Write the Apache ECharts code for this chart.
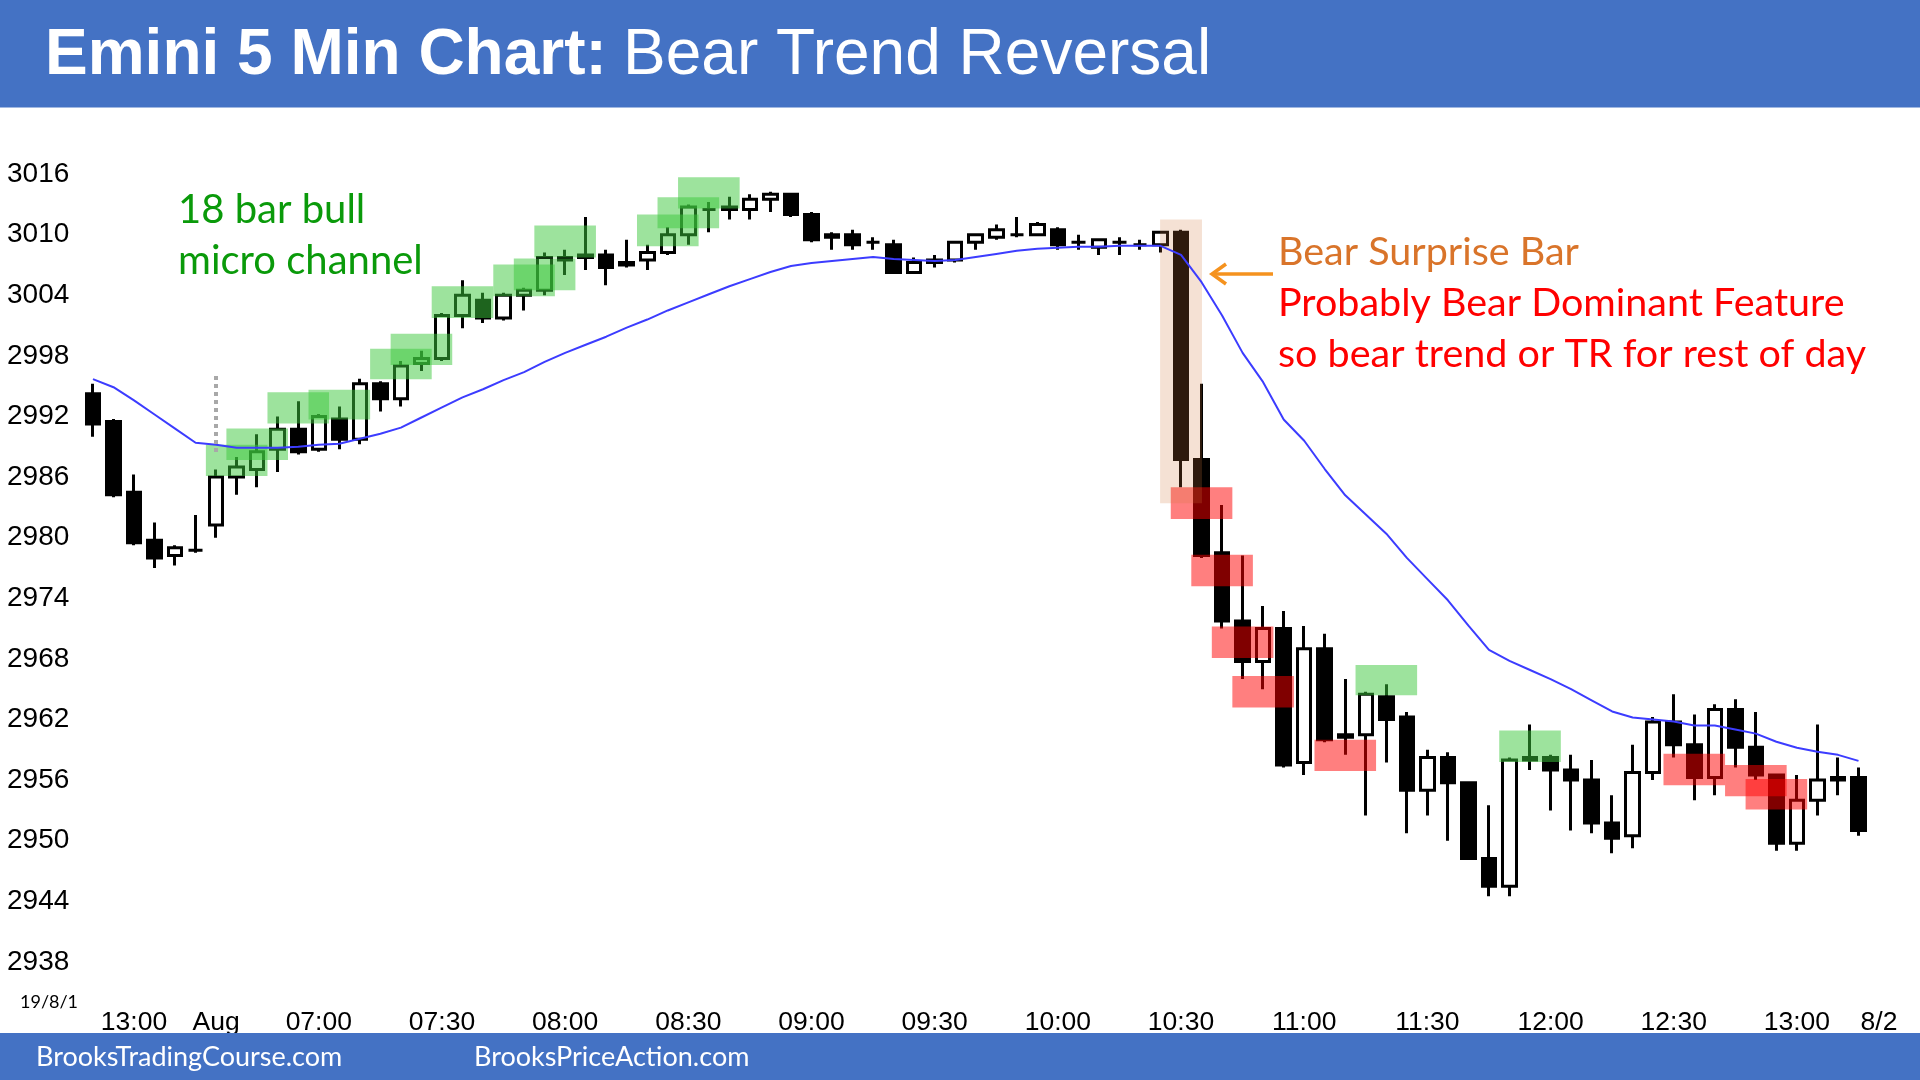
<!DOCTYPE html>
<html><head><meta charset="utf-8">
<script src="https://cdn.jsdelivr.net/npm/echarts@6/dist/echarts.min.js"></script>
<style>html,body{margin:0;padding:0;background:#fff}#c{width:1920px;height:1080px}</style>
</head><body><div id="c"></div>
<script>
const categories = ('07/31 12:50,07/31 12:55,07/31 13:00,07/31 13:05,07/31 13:10,07/31 13:15,' +
 '08/01 06:35,08/01 06:40,08/01 06:45,08/01 06:50,08/01 06:55,08/01 07:00,08/01 07:05,08/01 07:10,08/01 07:15,08/01 07:20,08/01 07:25,08/01 07:30,' +
 '08/01 07:35,08/01 07:40,08/01 07:45,08/01 07:50,08/01 07:55,08/01 08:00,08/01 08:05,08/01 08:10,08/01 08:15,08/01 08:20,08/01 08:25,08/01 08:30,' +
 '08/01 08:35,08/01 08:40,08/01 08:45,08/01 08:50,08/01 08:55,08/01 09:00,08/01 09:05,08/01 09:10,08/01 09:15,08/01 09:20,08/01 09:25,08/01 09:30,' +
 '08/01 09:35,08/01 09:40,08/01 09:45,08/01 09:50,08/01 09:55,08/01 10:00,08/01 10:05,08/01 10:10,08/01 10:15,08/01 10:20,08/01 10:25,08/01 10:30,' +
 '08/01 10:35,08/01 10:40,08/01 10:45,08/01 10:50,08/01 10:55,08/01 11:00,08/01 11:05,08/01 11:10,08/01 11:15,08/01 11:20,08/01 11:25,08/01 11:30,' +
 '08/01 11:35,08/01 11:40,08/01 11:45,08/01 11:50,08/01 11:55,08/01 12:00,08/01 12:05,08/01 12:10,08/01 12:15,08/01 12:20,08/01 12:25,08/01 12:30,' +
 '08/01 12:35,08/01 12:40,08/01 12:45,08/01 12:50,08/01 12:55,08/01 13:00,08/01 13:05,08/01 13:10,08/01 13:15,08/02 06:35').split(',');

const xTickLabels = [[2,'13:00'],[6,'Aug'],[11,'07:00'],[17,'07:30'],[23,'08:00'],[29,'08:30'],[35,'09:00'],[41,'09:30'],
 [47,'10:00'],[53,'10:30'],[59,'11:00'],[65,'11:30'],[71,'12:00'],[77,'12:30'],[83,'13:00'],[87,'8/2']];
const yTicks = [2938,2944,2950,2956,2962,2968,2974,2980,2986,2992,2998,3004,3010,3016];

const opens = [2994.25,2991.5,2984.5,2979.75,2978.25,2978.75,2981.25,2986,2986.75,2988.75,
 2990.75,2988.75,2991.75,2989.75,2995.25,2993.75,2997.25,2997.75,3002,3003.5,
 3001.75,3004,3004.5,3007.5,3008,3008,3007.25,3007.5,3008.25,3010,
 3012.5,3012.75,3012.5,3013.5,3014,3012,3010,3010,3009.25,3009,
 3006.25,3007.25,3007.5,3009.25,3009.75,3010,3010,3010.5,3009.25,3008.75,
 3009.25,3009,3009,3010.25,2987.75,2978.5,2971.75,2967.75,2971,2957.75,
 2969,2960.5,2960.5,2964.25,2962.25,2955,2958.25,2955.75,2948.25,2945.5,
 2958.25,2958.25,2957,2956,2951.75,2950.5,2956.75,2961.75,2959.5,2956.25,
 2963,2959.25,2956.5,2949.75,2954,2956.25,2956.25];
const highs = [2995.25,2991.75,2986.25,2981.5,2979.25,2982.25,2986.75,2988,2990.25,2992,
 2993.5,2992.25,2993,2995.75,2995.5,2997.5,2998.5,3002.25,3005.5,3004.25,
 3004.25,3004.75,3008.25,3008.5,3011.75,3008.5,3009.5,3009,3010.75,3013,
 3013.25,3013.75,3014,3014.25,3014,3012.25,3010.25,3010.5,3009.75,3009.5,
 3007.75,3008,3009.25,3010,3011,3011.75,3011.25,3010.75,3010,3009.5,
 3009.75,3009.5,3010.25,3010.5,2995.25,2983.25,2978.25,2973.25,2972.75,2971.25,
 2970.5,2966,2964.75,2965.5,2962.75,2959,2958.75,2955.75,2953.5,2958.25,
 2961.5,2958.5,2958.5,2958,2954.5,2959.5,2962.25,2964.5,2962.5,2963.5,
 2964,2962.75,2956.5,2956.5,2961.5,2958.25,2957.25];
const lows = [2990,2984,2979.25,2977,2977.25,2978.5,2980,2984.25,2985,2986.5,
 2988.25,2988.5,2988.75,2989.25,2992.5,2993,2996.5,2997.5,3000.75,3001.25,
 3001.5,3002.5,3004,3006,3006.5,3005,3006.75,3006.5,3008,3009,
 3010.25,3011.5,3011.5,3012.25,3011.75,3009.25,3008.5,3008.5,3008.5,3006.25,
 3006.25,3006.75,3007.25,3008.5,3009.5,3009.75,3010,3008.5,3008.5,3008,
 3008,3008.5,3008.25,2985,2978,2971,2966,2965,2957.25,2956.5,
 2959.75,2958.5,2952.5,2957.75,2950.75,2952.5,2950,2948.25,2944.5,2944.5,
 2957,2953,2951,2950.75,2948.75,2949.25,2956,2958.25,2954,2954.5,
 2957.25,2956,2949,2949,2952.5,2954.5,2950.5];
const closes = [2991.25,2984.25,2979.5,2978,2979,2978.75,2986,2987,2988.5,2990.75,
 2988.5,2992,2989.75,2995.25,2993.75,2997,2997.75,3002,3004,3001.75,
 3004,3004.5,3007.75,3007.75,3007.75,3006.75,3007,3008.25,3010,3012.75,
 3012.5,3012.5,3013.5,3014,3012,3009.5,3009.75,3009,3009.25,3006.25,
 3007.25,3007.5,3009.25,3010,3010.5,3010,3011,3009,3009.25,3009.5,
 3009.25,3009,3010.25,2987.75,2978.25,2971.75,2967.75,2971,2957.5,2969,
 2960,2960.25,2964.5,2962,2955,2958.25,2955.75,2948.25,2945.5,2958,
 2958,2957,2956,2951.75,2950.25,2956.75,2961.75,2959.5,2956.25,2963,
 2959.25,2956.5,2949.75,2954,2956,2956,2951];
const ema20 = [2995.7,2994.9,2993.6,2992.2,2990.8,2989.4,2989.2,2988.9,2988.9,2988.9,
 2989.0,2989.2,2989.3,2989.8,2990.3,2990.9,2991.9,2992.9,2993.9,2994.7,
 2995.6,2996.4,2997.4,2998.3,2999.1,2999.9,3000.8,3001.6,3002.5,3003.3,
 3004.1,3004.9,3005.6,3006.3,3006.9,3007.2,3007.4,3007.6,3007.8,3007.6,
 3007.5,3007.4,3007.5,3007.8,3008.1,3008.4,3008.6,3008.7,3008.8,3008.8,
 3008.9,3008.9,3008.9,3008.0,3005.3,3002.0,2998.3,2995.4,2991.7,2989.6,
 2986.8,2984.2,2982.3,2980.4,2978.0,2975.9,2973.8,2971.3,2968.9,2967.8,
 2966.9,2966.0,2965.0,2963.9,2962.8,2962.2,2962.0,2961.8,2961.4,2961.4,
 2961.0,2960.6,2959.8,2959.2,2958.8,2958.5,2957.9];

// [bar index, low price, high price]
const greenBoxes = [[7,2986.1,2989.2],[8,2987.7,2990.8],[10,2991.3,2994.4],[12,2991.7,2994.65],
 [15,2995.7,2998.7],[16,2997.1,3000.2],[18,3001.75,3004.9],[21,3003.9,3007.05],[22,3004.5,3007.65],
 [23,3007.75,3010.9],[28,3008.85,3012],[29,3010.65,3013.7],[30,3012.6,3015.7],[63,2964.4,2967.4],[70,2957.8,2960.9]];
const redBoxes = [[54,2981.85,2985],[55,2975.2,2978.3],[56,2968.1,2971.2],[57,2963.2,2966.3],
 [61,2956.9,2960],[78,2955.5,2958.6],[81,2954.4,2957.5],[82,2953.1,2956.1]];
const surpriseBox = [[53,2983.4,3011.5]];
const dayOpenMarker = { bar: 6, from: 2996, to: 2988.25 };

const candleData = opens.map((o, i) => [o, closes[i], lows[i], highs[i]]);

function boxRenderer(halfBands, fill) {
  return function (params, api) {
    const i = api.value(0);
    const top = api.coord([i, api.value(2)]);
    const bot = api.coord([i, api.value(1)]);
    const bw = api.size([1, 0])[0];
    const half = bw * halfBands;
    return { type: 'rect', shape: { x: top[0] - half, y: top[1], width: half * 2, height: bot[1] - top[1] },
      style: { fill: fill } };
  };
}

const labelMap = {};
xTickLabels.forEach(p => { labelMap[p[0]] = p[1]; });

const chart = echarts.init(document.getElementById('c'));
chart.setOption({
  animation: false,
  backgroundColor: '#fff',
  grid: { left: 82.7, right: 30.7, top: 174.1, bottom: 118.1, containLabel: false },
  xAxis: {
    type: 'category', data: categories, boundaryGap: true,
    axisLine: { show: false }, axisTick: { show: false }, splitLine: { show: false },
    axisLabel: { interval: 0, margin: 47, color: '#000', fontSize: 26.5, fontFamily: 'Liberation Sans',
      formatter: (v, i) => labelMap[i] || '' }
  },
  yAxis: {
    type: 'value', min: 2938, max: 3016, scale: true,
    axisLine: { show: false }, axisTick: { show: false }, splitLine: { show: false },
    axisLabel: { customValues: yTicks, align: 'left', margin: 75.7, color: '#000', fontSize: 28, fontFamily: 'Liberation Sans',
      formatter: v => String(v) }
  },
  series: [
    { type: 'candlestick', data: candleData, barWidth: 14, z: 2, silent: true,
      itemStyle: { color: '#ffffff', color0: '#000000', borderColor: '#000000', borderColor0: '#000000',
        borderColorDoji: '#000000', borderWidth: 3 } },
    { type: 'custom', data: greenBoxes, encode: { x: 0, y: [1, 2] }, z: 3, silent: true, clip: false,
      renderItem: boxRenderer(1.5, 'rgba(60,200,60,0.5)') },
    { type: 'custom', data: redBoxes, encode: { x: 0, y: [1, 2] }, z: 3, silent: true, clip: false,
      renderItem: boxRenderer(1.5, 'rgba(255,0,0,0.5)') },
    { type: 'custom', data: surpriseBox, encode: { x: 0, y: [1, 2] }, z: 3, silent: true, clip: false,
      renderItem: boxRenderer(1.02, 'rgba(210,120,60,0.22)') },
    { type: 'line', data: ema20, symbol: 'none', smooth: false, z: 4, silent: true,
      lineStyle: { color: '#3c3cff', width: 2 },
      markLine: { silent: true, symbol: ['none', 'none'], label: { show: false },
        lineStyle: { color: '#a8a8a8', width: 4, type: [4, 4] },
        data: [[{ coord: [categories[dayOpenMarker.bar], dayOpenMarker.from] },
                { coord: [categories[dayOpenMarker.bar], dayOpenMarker.to] }]] } }
  ],
  graphic: [
    { type: 'rect', z: 100, shape: { x: 0, y: 0, width: 1920, height: 107.5 }, style: { fill: '#4472c4' } },
    { type: 'rect', z: 100, shape: { x: 0, y: 1033, width: 1920, height: 47 }, style: { fill: '#4472c4' } },
    { type: 'text', z: 101, x: 45, y: 56, style: { text: 'Emini 5 Min Chart:', font: 'bold 64px "Liberation Sans"', fill: '#fff', textAlign: 'left', textVerticalAlign: 'middle' } },
    { type: 'text', z: 101, x: 623, y: 56, style: { text: 'Bear Trend Reversal', font: '64px "Liberation Sans"', fill: '#fff', textAlign: 'left', textVerticalAlign: 'middle' } },
    { type: 'text', z: 101, x: 36, y: 1057, style: { text: 'BrooksTradingCourse.com', font: '27px Lato', fill: '#fff', textAlign: 'left', textVerticalAlign: 'middle' } },
    { type: 'text', z: 101, x: 474, y: 1057, style: { text: 'BrooksPriceAction.com', font: '27px Lato', fill: '#fff', textAlign: 'left', textVerticalAlign: 'middle' } },
    { type: 'text', z: 101, x: 20, y: 1002, style: { text: '19/8/1', font: '18px Lato', fill: '#000', textAlign: 'left', textVerticalAlign: 'middle' } },
    { type: 'text', z: 101, x: 178, y: 210, style: { text: '18 bar bull', font: '40px Lato', fill: '#0a9a0a', textAlign: 'left', textVerticalAlign: 'middle' } },
    { type: 'text', z: 101, x: 178, y: 261, style: { text: 'micro channel', font: '40px Lato', fill: '#0a9a0a', textAlign: 'left', textVerticalAlign: 'middle' } },
    { type: 'text', z: 101, x: 1278, y: 252, style: { text: 'Bear Surprise Bar', font: '39.5px Lato', fill: '#d9742a', textAlign: 'left', textVerticalAlign: 'middle' } },
    { type: 'text', z: 101, x: 1278, y: 303.5, style: { text: 'Probably Bear Dominant Feature', font: '39.5px Lato', fill: '#ff0000', textAlign: 'left', textVerticalAlign: 'middle' } },
    { type: 'text', z: 101, x: 1278, y: 354.5, style: { text: 'so bear trend or TR for rest of day', font: '39.5px Lato', fill: '#ff0000', textAlign: 'left', textVerticalAlign: 'middle' } },
    { type: 'line', z: 101, shape: { x1: 1273, y1: 274, x2: 1213, y2: 274 }, style: { stroke: '#f5921e', lineWidth: 3.5 } },
    { type: 'polyline', z: 101, shape: { points: [[1226, 264], [1212, 274], [1226, 284]] }, style: { stroke: '#f5921e', lineWidth: 3.5, fill: null } }
  ]
});
</script>
</body></html>
